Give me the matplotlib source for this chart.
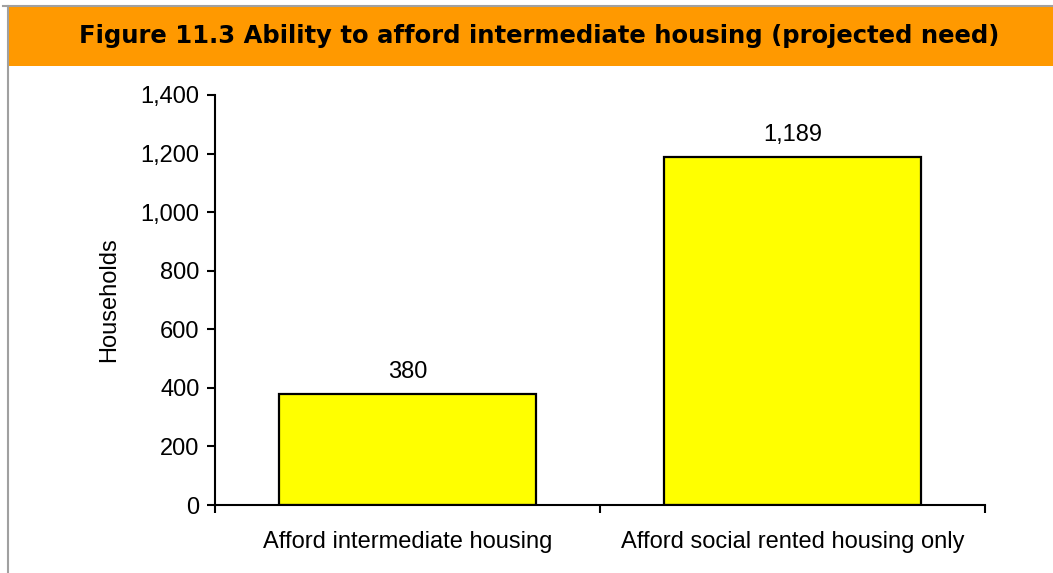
import matplotlib.pyplot as plt
from matplotlib.patches import Rectangle
from matplotlib.lines import Line2D
from matplotlib.ticker import FuncFormatter

categories = ["Afford intermediate housing", "Afford social rented housing only"]
households = [380, 1189]
title = "Figure 11.3 Ability to afford intermediate housing (projected need)"

W, H = 1053, 573
fig = plt.figure(figsize=(W / 100, H / 100), dpi=100)
plt.rcParams["font.family"] = ["Liberation Sans", "DejaVu Sans"]

# frame: gray rules on top and left, orange title banner
fig.add_artist(Line2D([3 / W, 1], [1 - 5.5 / H, 1 - 5.5 / H], color="#a0a0a0", lw=1.5))
fig.add_artist(Line2D([8 / W, 8 / W], [0, 1 - 5.5 / H], color="#a0a0a0", lw=1.5))
fig.add_artist(Rectangle((9 / W, 1 - 66 / H), 1 - 9 / W, 60 / H,
                         facecolor="#ff9900", edgecolor="none"))
fig.text(539 / W, 1 - 36 / H, title, ha="center", va="center",
         fontsize=17.5, fontweight="bold", family="DejaVu Sans")

ax = fig.add_axes([215 / W, 68 / H, 770 / W, 410 / H])
x = range(len(categories))
bars = ax.bar(x, households, width=0.667, color="#ffff00",
              edgecolor="black", linewidth=1.6)
for b, v in zip(bars, households):
    ax.annotate(f"{v:,}", (b.get_x() + b.get_width() / 2, v),
                xytext=(0, 8), textcoords="offset points",
                ha="center", va="bottom", fontsize=17)

ax.set_xlim(-0.5, 1.5)
ax.set_ylim(0, 1400)
ax.set_yticks(range(0, 1401, 200))
ax.yaxis.set_major_formatter(FuncFormatter(lambda v, p: f"{int(v):,}"))
ax.set_xticks([-0.5, 0.5, 1.5])
ax.set_xticklabels([])
ax.set_xticks(list(x), minor=True)
ax.set_xticklabels(categories, minor=True)
ax.tick_params(axis="x", which="minor", length=0, pad=19, labelsize=17)
ax.tick_params(axis="x", which="major", length=6, width=1.5)
ax.tick_params(axis="y", length=6, width=1.5, labelsize=17, pad=5)
for s in ["top", "right"]:
    ax.spines[s].set_visible(False)
for s in ["left", "bottom"]:
    ax.spines[s].set_linewidth(1.5)
ax.set_ylabel("Households", fontsize=17, labelpad=15)

fig.savefig("out.png", dpi=100)
